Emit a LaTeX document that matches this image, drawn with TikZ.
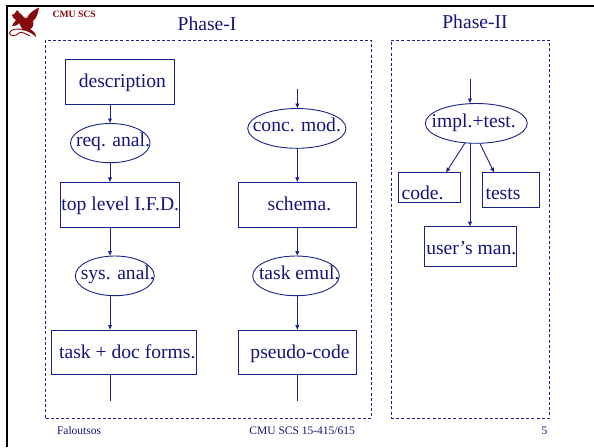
\documentclass[tikz,border=0pt]{standalone}
\usepackage{fontspec}
\setmainfont{Liberation Serif}
\usetikzlibrary{shapes.geometric,arrows.meta}
\definecolor{slideblue}{RGB}{20,20,125}
\definecolor{slideline}{RGB}{25,35,140}
\definecolor{dragon}{RGB}{135,10,15}
\newcommand{\tx}[3]{\raisebox{#2pt}[0pt][0pt]{\makebox[0pt]{\kern#1pt\kern#1pt #3}}}
\tikzset{
  x=1pt,y=-1pt,
  big/.style={font=\fontsize{19.6}{22}\selectfont,text=slideblue},
  boxn/.style={big,draw=slideline,line width=0.9pt,rectangle,inner sep=0,outer sep=0,minimum width=#1},
  elln/.style={big,draw=slideline,line width=0.9pt,ellipse,inner sep=0,outer sep=0,minimum width=#1},
  frame/.style={draw=slideline,line width=0.9pt,dash pattern=on 3pt off 2.2pt,rectangle,inner sep=0,outer sep=0},
  conn/.style={draw=slideline,line width=0.9pt,-{Latex[length=5pt,width=4.5pt]}},
  plain/.style={draw=slideline,line width=0.9pt},
  title/.style={font=\fontsize{19.6}{22}\selectfont,text=slideblue,anchor=base,inner sep=0},
  foot/.style={font=\fontsize{11.5}{13}\selectfont,text=slideblue,anchor=base,inner sep=0}
}
\begin{document}
\begin{tikzpicture}
\useasboundingbox (0,0) rectangle (594,447);
\fill[white] (0,0) rectangle (594,447);
% slide border
\draw[black,line width=2pt] (594,6) -| (7,447);
% dragon logo
\begin{scope}[fill=dragon,draw=dragon]
\fill (39,7.5) .. controls (38,13) and (37,18) .. (33,21) .. controls (34,25) and (33,28) .. (30,29)
  .. controls (33,31) and (36,33) .. (36,37) .. controls (33,34) and (28,31) .. (23,30)
  .. controls (21,27) and (20,25) .. (19,23) .. controls (17,26) and (14,26) .. (12,26)
  .. controls (13,24) and (14,22) .. (16,20) .. controls (14,18) and (12,18) .. (12,15)
  .. controls (14,15) and (15,13) .. (17,10) .. controls (19,12) and (20,14) .. (22,15)
  .. controls (23,17) and (25,19) .. (27,18) .. controls (29,13) and (34,10) .. (39,7.5) -- cycle;
\draw[line width=0.9pt,fill=none] (24,30) .. controls (18,28) and (10,29) .. (9.5,33)
  .. controls (10,37) and (17,36) .. (19,33) .. controls (21,31) and (26,34) .. (30,36);
\end{scope}
\node[font=\bfseries\fontsize{9.7}{11}\selectfont,text=dragon,anchor=base west,inner sep=0] (cmu) at (52.3,17.3) {CMU SCS};
% frames
\node[frame,minimum width=325.5pt,minimum height=378.5pt] (phaseA) at (208.25,229.25) {};
\node[frame,minimum width=158pt,minimum height=378.5pt] (phaseB) at (470,229.25) {};
\node[title] (titleA) at (207,30.7) {Phase-I};
\node[title] (titleB) at (475,28.3) {Phase-II};
% column guides
\coordinate (colA) at (110,0);
\coordinate (colB) at (297.3,0);
\coordinate (colC) at (470,0);
% Phase-I, left column
\node[boxn=109pt,minimum height=44.5pt] (desc) at (120,81.75) {\tx{2.3}{-5.55}{description}};
\node[elln=79.5pt,minimum height=39.2pt] (req) at (110.25,143.1) {\tx{2.75}{-2.9}{req. anal.}};
\node[boxn=118.6pt,minimum height=44.7pt] (top) at (120,204.65) {\tx{0.3}{-5.35}{top level I.F.D.}};
\node[elln=79pt,minimum height=39.7pt] (sys) at (114.8,275.85) {\tx{3}{-3.45}{sys. anal.}};
\node[boxn=145pt,minimum height=44.7pt] (task) at (124.2,352.35) {\tx{3.1}{-5.65}{task + doc forms.}};
% Phase-I, right column
\node[elln=98.3pt,minimum height=39.8pt] (conc) at (296.85,128.4) {\tx{0}{-2.9}{conc. mod.}};
\node[boxn=118.7pt,minimum height=44.7pt] (schema) at (297.35,204.65) {\tx{2.15}{-6.05}{schema.}};
\node[elln=86.6pt,minimum height=39.7pt] (emul) at (296,275.85) {\tx{3.3}{-3.45}{task emul.}};
\node[boxn=118.7pt,minimum height=44.7pt] (pseudo) at (297.35,352.35) {\tx{2.65}{-5.65}{pseudo-code}};
% Phase-II
\node[elln=102pt,minimum height=39.8pt] (impl) at (476.3,123.4) {\tx{-2.6}{-3.9}{impl.+test.}};
\node[boxn=61.7pt,minimum height=29.6pt] (code) at (429.15,187.5) {\tx{-6.65}{-11.8}{code.}};
\node[boxn=57.3pt,minimum height=34.6pt] (tests) at (510.65,190) {\tx{-7.65}{-9.3}{tests}};
\node[boxn=92.4pt,minimum height=39.6pt] (man) at (470.5,246.5) {\tx{0.8}{-7.5}{user’s man.}};
% free ends
\coordinate (endA) at (110,401);
\coordinate (endB) at (297.3,401);
\coordinate (startB) at (297.3,89);
\coordinate (startC) at (470,79.3);
% connectors
\draw[conn] (desc.south -| colA) -- (req.north -| colA);
\draw[conn] (req.south -| colA) -- (top.north -| colA);
\draw[conn] (top.south -| colA) -- (sys.north -| colA);
\draw[conn] (sys.south -| colA) -- (task.north -| colA);
\draw[plain] (task.south -| colA) -- (endA);
\draw[conn] (startB) -- (conc.north -| colB);
\draw[conn] (conc.south -| colB) -- (schema.north -| colB);
\draw[conn] (schema.south -| colB) -- (emul.north -| colB);
\draw[conn] (emul.south -| colB) -- (pseudo.north -| colB);
\draw[plain] (pseudo.south -| colB) -- (endB);
\draw[conn] (startC) -- (impl.north -| colC);
\draw[conn] (impl.240) -- ([xshift=16.7pt]code.north);
\draw[conn] (impl.280) -- ([xshift=-16.4pt]tests.north);
\draw[conn] (impl.south -| colC) -- (man.north -| colC);
% footer
\node[foot,anchor=base west] (fa) at (56.8,434.7) {Faloutsos};
\node[foot] (fb) at (302.2,434.7) {CMU SCS 15-415/615};
\node[foot] (fc) at (544.5,434.7) {5};
\end{tikzpicture}
\end{document}
